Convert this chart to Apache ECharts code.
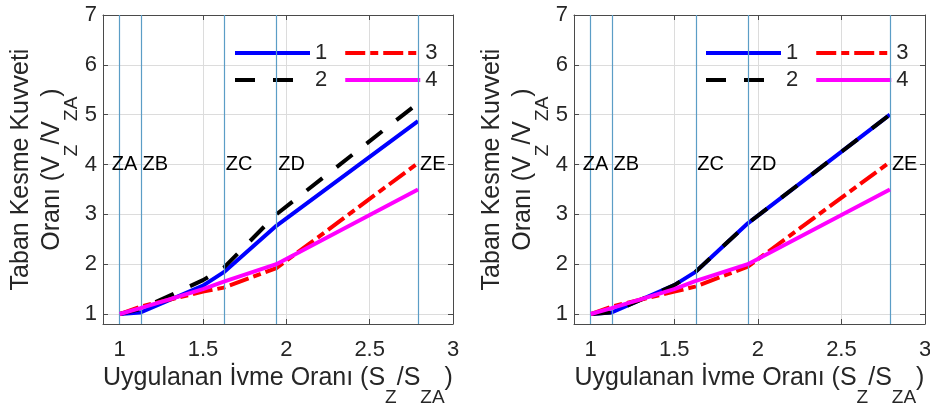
<!DOCTYPE html>
<html>
<head>
<meta charset="utf-8">
<script src="https://cdn.jsdelivr.net/npm/echarts@6/dist/echarts.min.js"></script>
<style>
  html, body { margin: 0; padding: 0; background: #fff; }
  #chart { width: 930px; height: 403px; }
</style>
</head>
<body>
<div id="chart"></div>
<script>
// Shared abscissa of the computed points (applied acceleration ratio)
const xPoints = [1, 1.125, 1.5, 1.625, 1.94, 2.79];

// Left panel: base shear ratio for cases 1-4
const left1 = [1, 1.03, 1.57, 1.84, 2.77, 4.87];
const left2 = [1, 1.10, 1.68, 1.93, 3.00, 5.23];
const left3 = [1, 1.15, 1.45, 1.53, 1.92, 4.03];
const left4 = [1, 1.12, 1.50, 1.65, 2.00, 3.50];

// Right panel: base shear ratio for cases 1-4
const right1 = [1, 1.03, 1.58, 1.84, 2.82, 5.00];
const right2 = [1, 1.03, 1.58, 1.84, 2.82, 5.00];
const right3 = [1, 1.15, 1.45, 1.55, 1.95, 4.05];
const right4 = [1, 1.12, 1.50, 1.66, 2.00, 3.50];

// Seismic zone boundaries
const zoneNames = ['ZA', 'ZB', 'ZC', 'ZD', 'ZE'];
const zoneX = [1, 1.125, 1.625, 1.94, 2.79];
const zoneLabelY = 4;

// Axis ticks
const xTicks = [1, 1.5, 2, 2.5, 3];
const yTicks = [1, 2, 3, 4, 5, 6, 7];
const seriesNames = ['1', '2', '3', '4'];

const FONT = '"Liberation Sans", Arial, Helvetica, sans-serif';
const TXT = '#262626';

const pairs = (ys) => xPoints.map((x, i) => [x, ys[i]]);

const lineColors = ['#0000ff', '#000000', '#ff0000', '#ff00ff'];
const lineTypes = ['solid', [20, 18], [20, 5, 8, 5], 'solid'];

// Axis titles: main text plus lowered subscripts
const nameRich = {
  a: { fontSize: 25, fontFamily: FONT, color: TXT, lineHeight: 31, verticalAlign: 'top' },
  s: { fontSize: 19, fontFamily: FONT, color: TXT, lineHeight: 19, verticalAlign: 'top', padding: [22, 0, 0, 0] }
};

const grids = [
  { left: 103, top: 15, width: 350, height: 309, outerBoundsMode: 'none', containLabel: false },
  { left: 574, top: 15, width: 351, height: 309, outerBoundsMode: 'none', containLabel: false }
];

const frame = { color: '#4a4a4a', width: 1 };

function xAxes(gi) {
  return [
    {
      type: 'value', gridIndex: gi, min: 0.9, max: 3, position: 'bottom',
      axisLine: { show: true, onZero: false, lineStyle: frame },
      axisTick: { show: true, inside: true, length: 5, customValues: xTicks, lineStyle: { color: '#4a4a4a' } },
      axisLabel: { show: true, customValues: xTicks, margin: 15, fontSize: 22, fontFamily: FONT, color: TXT },
      splitLine: { show: true, lineStyle: { color: '#dcdcdc', width: 1 } },
      name: '{a|Uygulanan İvme Oranı (S}{s|Z}{a|/S}{s|ZA}{a|)}',
      nameLocation: 'middle', nameGap: 40,
      nameTextStyle: { rich: nameRich }
    },
    {
      type: 'value', gridIndex: gi, min: 0.9, max: 3, position: 'top',
      axisLine: { show: true, onZero: false, lineStyle: frame },
      axisTick: { show: true, inside: true, length: 5, customValues: xTicks, lineStyle: { color: '#4a4a4a' } },
      axisLabel: { show: false },
      splitLine: { show: false }
    }
  ];
}

function yAxes(gi) {
  return [
    {
      type: 'value', gridIndex: gi, min: 0.8, max: 7, position: 'left',
      axisLine: { show: true, onZero: false, lineStyle: frame },
      axisTick: { show: true, inside: true, length: 5, customValues: yTicks, lineStyle: { color: '#4a4a4a' } },
      axisLabel: { show: true, customValues: yTicks, margin: 6, fontSize: 22, fontFamily: FONT, color: TXT },
      splitLine: { show: true, lineStyle: { color: '#dcdcdc', width: 1 } },
      name: '{a|Taban Kesme Kuvveti}\n{a|Oranı (V}{s|Z}{a|/V}{s|ZA}{a|)}',
      nameLocation: 'middle', nameRotate: 90, nameGap: 22,
      nameTextStyle: { rich: nameRich, align: 'center' }
    },
    {
      type: 'value', gridIndex: gi, min: 0.8, max: 7, position: 'right',
      axisLine: { show: true, onZero: false, lineStyle: frame },
      axisTick: { show: true, inside: true, length: 5, customValues: yTicks, lineStyle: { color: '#4a4a4a' } },
      axisLabel: { show: false },
      splitLine: { show: false }
    }
  ];
}

function panelSeries(gi, data) {
  const xi = gi * 2, yi = gi * 2;
  const out = data.map((ys, k) => ({
    name: seriesNames[k], type: 'line', xAxisIndex: xi, yAxisIndex: yi,
    data: pairs(ys), symbol: 'none', showSymbol: false, z: 2 + k,
    itemStyle: { color: lineColors[k] },
    lineStyle: { color: lineColors[k], width: 4, type: lineTypes[k] },
    animation: false
  }));
  // Zone boundaries with their labels
  out.push({
    type: 'scatter', xAxisIndex: xi, yAxisIndex: yi, z: 10, silent: true,
    symbolSize: 0, animation: false,
    itemStyle: { color: '#000', opacity: 1 },
    data: zoneX.map((x, i) => ({
      value: [x, zoneLabelY],
      label: { offset: i === 0 ? [-10, 0] : [0, 0] }
    })),
    label: {
      show: true, position: 'right', distance: 2,
      formatter: (p) => zoneNames[p.dataIndex],
      fontSize: 20, fontFamily: FONT, color: '#000', opacity: 1, textBorderWidth: 0
    },
    markLine: {
      silent: true, symbol: 'none', animation: false,
      label: { show: false },
      lineStyle: { color: '#5b9dc6', width: 1.2, type: 'solid', opacity: 1 },
      data: zoneX.map((x) => ({ xAxis: x }))
    }
  });
  return out;
}

function legends(x1) {
  const common = {
    orient: 'horizontal', itemWidth: 75, itemHeight: 14, itemGap: 16, padding: 0,
    textStyle: { fontSize: 22, fontFamily: FONT, color: TXT },
    itemStyle: { opacity: 0 },
    lineStyle: { width: 4 },
    selectedMode: false
  };
  return [
    Object.assign({}, common, { left: x1, top: 42, data: ['1', '3'] }),
    Object.assign({}, common, { left: x1, top: 69, data: ['2', '4'] })
  ];
}

const chart = echarts.init(document.getElementById('chart'), null, { renderer: 'canvas' });
chart.setOption({
  animation: false,
  backgroundColor: '#ffffff',
  textStyle: { fontFamily: FONT },
  grid: grids,
  xAxis: xAxes(0).concat(xAxes(1)),
  yAxis: yAxes(0).concat(yAxes(1)),
  legend: legends(233).concat(legends(704)),
  series: panelSeries(0, [left1, left2, left3, left4])
    .concat(panelSeries(1, [right1, right2, right3, right4]))
});
</script>
</body>
</html>
